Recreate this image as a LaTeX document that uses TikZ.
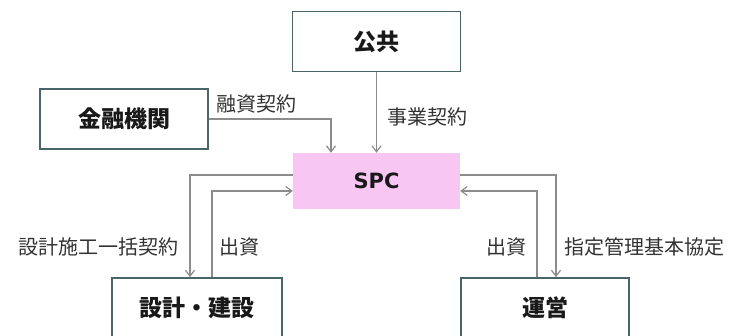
\documentclass[tikz,border=0pt]{standalone}
\usepackage{fontspec}
\setmainfont{Noto Sans CJK JP}
\newfontfamily\latinbold{DejaVu Sans}
\usetikzlibrary{arrows.meta}
\definecolor{boxline}{RGB}{72,102,106}
\definecolor{conn}{RGB}{140,140,140}
\definecolor{spcpink}{RGB}{248,198,242}
\definecolor{labeltext}{RGB}{50,50,50}
\begin{document}
\begin{tikzpicture}[x=1pt,y=-1pt,
  party/.style={draw=boxline, line width=1.6pt, fill=white, rectangle, inner sep=0pt,
    minimum width=168pt, minimum height=60pt, font=\fontsize{23}{26}\selectfont\bfseries, text=black!90},
  spcbox/.style={fill=spcpink, rectangle, inner sep=0pt, minimum width=167pt, minimum height=56pt,
    font=\latinbold\fontsize{21}{24}\selectfont\bfseries, text=black!90},
  conn/.style={draw=conn, line width=1.6pt, -{Straight Barb[length=6pt,width=9pt,line width=1.2pt]}},
  lbl/.style={font=\fontsize{20}{24}\selectfont, text=labeltext, inner sep=0pt}]
\useasboundingbox (0,0) rectangle (730,336);
\node[party] (kokyo) at (376.5,41.5) {公共};
\node[party] (kinyu) at (124,119) {金融機関};
\node[spcbox] (spc) at (376.5,181) {SPC};
\node[party, minimum width=170pt] (sekkei) at (197,308) {設計・建設};
\node[party] (unei) at (545,308) {運営};
% connectors
\draw[conn] (kinyu.east) -| ([xshift=-45.5pt]spc.north);
\draw[conn] (kokyo.south) -- (spc.north);
\draw[conn] ([yshift=6pt]spc.west) -| ([xshift=-7pt]sekkei.north);
\draw[conn] ([xshift=15pt]sekkei.north) |- ([yshift=-10pt]spc.west);
\draw[conn] ([yshift=6pt]spc.east) -| ([xshift=11pt]unei.north);
\draw[conn] ([xshift=-8pt]unei.north) |- ([yshift=-10pt]spc.east);
% labels
\node[lbl, anchor=west] (l1) at (216,104) {融資契約};
\node[lbl, anchor=west] (l2) at (387,117) {事業契約};
\node[lbl, anchor=east] (l3) at (179,247) {設計施工一括契約};
\node[lbl, anchor=west] (l4) at (219,247) {出資};
\node[lbl, anchor=east] (l5) at (527,247) {出資};
\node[lbl, anchor=west] (l6) at (564,247) {指定管理基本協定};
\end{tikzpicture}
\end{document}
